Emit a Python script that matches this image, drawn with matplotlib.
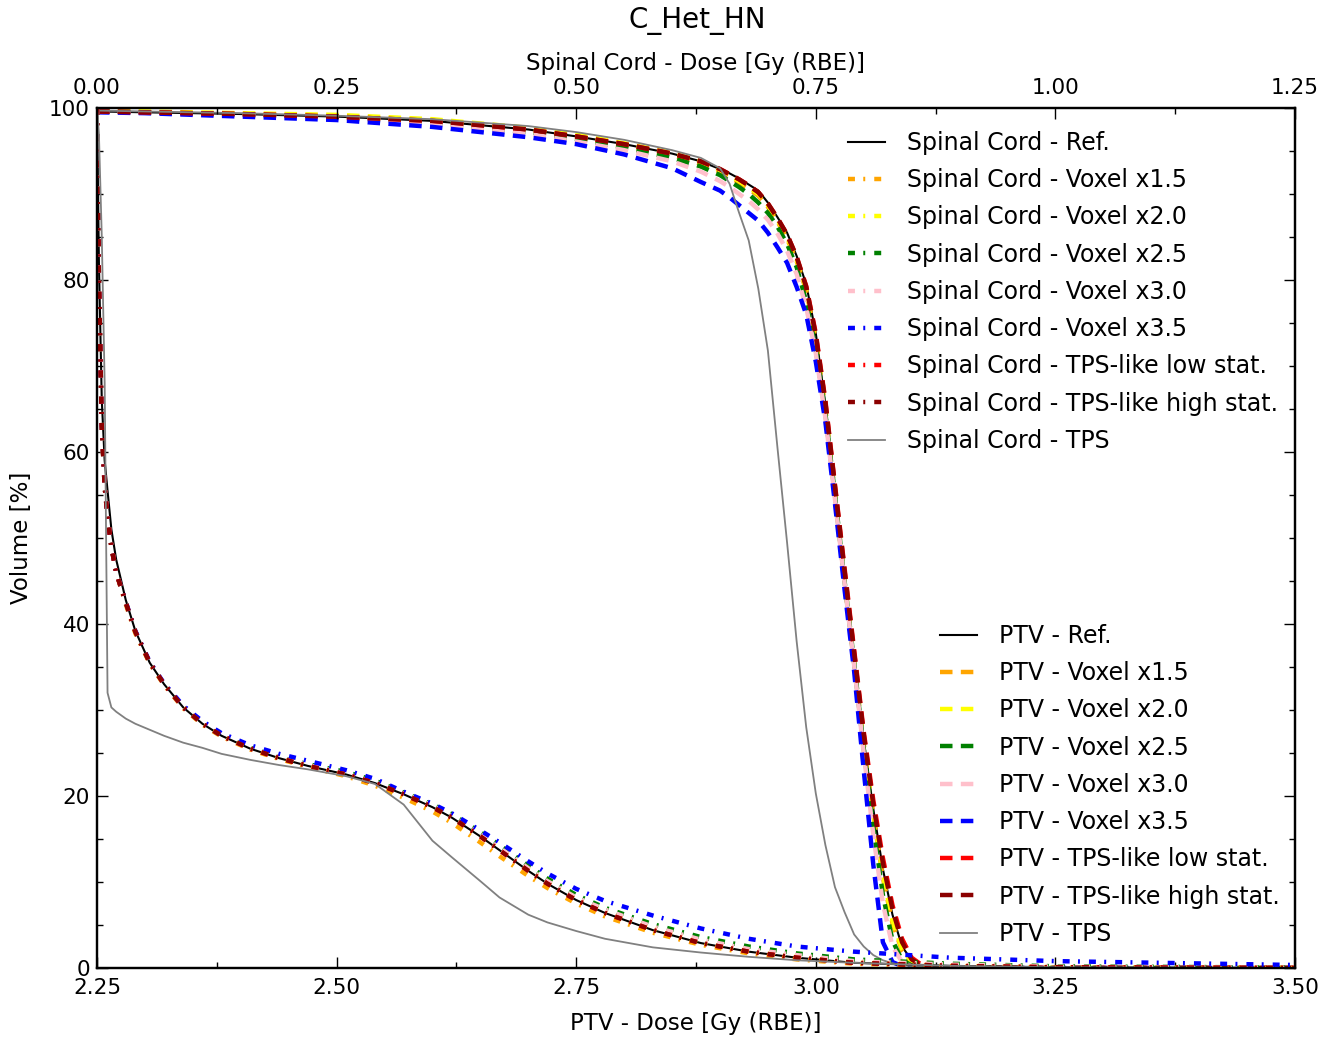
import matplotlib.pyplot as plt
from matplotlib.ticker import MultipleLocator

plt.rcParams['font.family'] = 'DejaVu Sans'
plt.rcParams['lines.scale_dashes'] = False
plt.rcParams['xtick.direction'] = 'in'
plt.rcParams['ytick.direction'] = 'in'
plt.rcParams['ytick.right'] = True

# run labels / colours (same order for both structures)
runs = ['Ref.', 'Voxel x1.5', 'Voxel x2.0', 'Voxel x2.5', 'Voxel x3.0',
        'Voxel x3.5', 'TPS-like low stat.', 'TPS-like high stat.', 'TPS']
colors = ['black', 'orange', 'yellow', 'green', 'pink', 'blue', 'red', 'darkred', 'grey']

# PTV DVH (bottom axis)
ptv_dose = [2.25, 2.30, 2.40, 2.50, 2.60, 2.70, 2.75, 2.80, 2.85, 2.88, 2.90, 2.91,
            2.92, 2.93, 2.94, 2.95, 2.96, 2.97, 2.98, 2.99, 3.00, 3.01, 3.02, 3.03,
            3.04, 3.05, 3.06, 3.07, 3.08, 3.09, 3.10, 3.11, 3.12, 3.15, 3.25, 3.50]
ptv_ref = [99.6, 99.5, 99.3, 99.0, 98.5, 97.5, 96.7, 95.8, 94.7, 93.8, 92.9, 92.4,
           91.8, 91.1, 90.4, 89.0, 87.3, 85.5, 82.8, 79.5, 73.8, 65.5, 55.5, 45.5,
           36.0, 26.5, 18.5, 11.5, 6.2, 2.5, 0.9, 0.3, 0.1, 0.02, 0, 0]
ptv_x15 = [99.6, 99.5, 99.3, 99.0, 98.5, 97.4, 96.6, 95.6, 94.5, 93.5, 92.6, 92.0,
           91.3, 90.6, 89.8, 88.5, 86.8, 84.8, 82.2, 78.8, 73.0, 65.0, 55.0, 45.0,
           35.5, 26.0, 17.8, 10.5, 5.2, 2.0, 0.6, 0.2, 0.05, 0, 0, 0]
ptv_x20 = [99.7, 99.6, 99.4, 99.2, 98.7, 97.7, 96.9, 95.9, 94.8, 93.8, 92.8, 92.2,
           91.5, 90.8, 90.0, 88.7, 87.0, 85.0, 82.4, 79.0, 73.3, 65.3, 55.3, 45.3,
           35.8, 26.3, 18.0, 10.8, 5.5, 2.2, 0.7, 0.2, 0.05, 0, 0, 0]
ptv_x25 = [99.6, 99.5, 99.2, 98.9, 98.3, 97.2, 96.4, 95.4, 94.2, 93.2, 92.2, 91.5,
           90.8, 90.0, 89.0, 87.8, 86.2, 84.2, 81.5, 77.5, 72.0, 64.5, 55.0, 45.0,
           35.5, 25.5, 16.5, 8.5, 3.2, 0.9, 0.3, 0.1, 0.03, 0, 0, 0]
ptv_x30 = [99.6, 99.5, 99.2, 98.8, 98.2, 97.0, 96.1, 95.1, 93.8, 92.6, 91.5, 90.8,
           90.0, 89.2, 88.2, 87.0, 85.4, 83.4, 80.7, 76.8, 71.5, 64.0, 54.5, 44.8,
           35.2, 25.0, 15.5, 7.5, 2.5, 0.7, 0.2, 0.05, 0, 0, 0, 0]
ptv_x35 = [99.5, 99.4, 99.0, 98.6, 97.8, 96.6, 95.8, 94.6, 93.0, 91.4, 90.4, 89.6,
           88.7, 87.8, 86.9, 85.5, 83.8, 82.0, 79.2, 76.0, 70.5, 63.5, 54.0, 44.0,
           34.5, 23.0, 12.0, 3.0, 0.7, 0.2, 0.05, 0, 0, 0, 0, 0]
ptv_low = [99.6, 99.5, 99.3, 99.0, 98.5, 97.5, 96.7, 95.8, 94.7, 93.8, 92.9, 92.3,
           91.7, 91.0, 90.2, 88.9, 87.2, 85.3, 82.7, 79.3, 73.8, 66.0, 56.2, 46.5,
           37.0, 27.5, 19.5, 12.8, 7.3, 3.4, 1.2, 0.4, 0.1, 0.02, 0, 0]
ptv_high = [99.6, 99.5, 99.3, 99.0, 98.5, 97.5, 96.7, 95.8, 94.7, 93.8, 92.9, 92.3,
            91.7, 91.0, 90.2, 88.9, 87.2, 85.3, 82.7, 79.2, 73.6, 65.8, 56.0, 46.2,
            36.7, 27.2, 19.0, 12.2, 6.8, 3.0, 1.0, 0.3, 0.1, 0.02, 0, 0]
ptv_tps = [99.7, 99.6, 99.4, 99.1, 98.7, 97.9, 97.2, 96.3, 95.1, 94.2, 93.0, 91.2,
           87.8, 84.6, 79.0, 71.8, 60.5, 49.5, 38.0, 28.0, 20.3, 14.3, 9.4, 6.5,
           3.9, 2.5, 1.5, 0.9, 0.55, 0.35, 0.2, 0.12, 0.08, 0.02, 0, 0]

# Spinal cord DVH (top axis)
sc_dose = [0, 0.002, 0.005, 0.008, 0.011, 0.015, 0.02, 0.03, 0.04, 0.055, 0.07, 0.09,
           0.11, 0.13, 0.16, 0.19, 0.22, 0.26, 0.29, 0.32, 0.35, 0.37, 0.40, 0.42,
           0.45, 0.47, 0.50, 0.53, 0.58, 0.63, 0.68, 0.73, 0.79, 0.89, 1.0, 1.25]
sc_ref = [100, 82, 66, 59, 55.5, 51, 47.5, 42.8, 39.2, 35.5, 33.0, 30.3,
          28.4, 27.0, 25.5, 24.4, 23.5, 22.5, 21.5, 20.2, 18.7, 17.5, 15.3, 13.7,
          11.3, 9.8, 7.9, 6.4, 4.4, 2.9, 1.9, 1.2, 0.6, 0.25, 0.08, 0.0]
sc_x15 = [100, 80, 63, 56, 52.5, 49.0, 46.0, 42.3, 38.9, 35.4, 32.9, 30.2,
          28.3, 26.9, 25.4, 24.3, 23.4, 22.3, 21.2, 19.8, 18.2, 16.9, 14.6, 13.0,
          10.7, 9.3, 7.5, 6.0, 4.1, 2.7, 1.7, 1.0, 0.5, 0.2, 0.06, 0.0]
sc_x20 = [100, 80, 63, 56, 52.5, 49.0, 46.0, 42.5, 39.1, 35.5, 33.0, 30.3,
          28.4, 27.0, 25.5, 24.4, 23.5, 22.5, 21.5, 20.2, 18.8, 17.6, 15.5, 13.9,
          11.5, 10.0, 8.1, 6.6, 4.6, 3.0, 2.0, 1.3, 0.7, 0.3, 0.1, 0.0]
sc_x25 = [100, 80, 63, 56, 52.5, 49.0, 46.0, 42.5, 39.1, 35.5, 33.0, 30.3,
          28.4, 27.0, 25.6, 24.5, 23.7, 22.8, 21.8, 20.4, 19.0, 17.9, 15.8, 14.3,
          11.9, 10.4, 8.5, 7.0, 5.1, 3.6, 2.5, 1.7, 1.0, 0.5, 0.2, 0.05]
sc_x30 = [100, 80, 63, 56, 52.5, 49.0, 46.0, 42.5, 39.1, 35.5, 33.0, 30.3,
          28.4, 27.0, 25.5, 24.5, 23.6, 22.6, 21.6, 20.3, 18.9, 17.7, 15.6, 14.0,
          11.6, 10.1, 8.2, 6.8, 4.8, 3.3, 2.2, 1.5, 0.8, 0.4, 0.15, 0.03]
sc_x35 = [100, 80, 63, 56, 52.5, 49.0, 46.0, 42.6, 39.2, 35.6, 33.1, 30.5,
          28.7, 27.3, 25.9, 24.9, 24.1, 23.0, 22.0, 20.5, 19.1, 18.0, 16.0, 14.6,
          12.4, 11.0, 9.2, 7.8, 6.1, 4.6, 3.4, 2.5, 1.9, 1.2, 0.8, 0.35]
sc_low = [100, 80, 63, 56, 52.5, 49.0, 46.0, 42.5, 39.1, 35.5, 33.0, 30.3,
          28.4, 27.0, 25.5, 24.4, 23.5, 22.5, 21.5, 20.2, 18.7, 17.5, 15.3, 13.7,
          11.3, 9.8, 7.9, 6.4, 4.4, 2.9, 1.9, 1.2, 0.6, 0.25, 0.08, 0.0]
sc_high = [100, 80, 63, 56, 52.5, 49.0, 46.0, 42.5, 39.1, 35.5, 33.0, 30.3,
           28.4, 27.0, 25.5, 24.4, 23.5, 22.5, 21.5, 20.2, 18.7, 17.5, 15.3, 13.7,
           11.3, 9.8, 7.9, 6.4, 4.4, 2.9, 1.9, 1.2, 0.6, 0.25, 0.08, 0.0]
sc_tps = [100, 97, 85, 68, 32, 30.3, 29.8, 29.0, 28.4, 27.7, 27.0, 26.2,
          25.6, 24.9, 24.2, 23.6, 23.1, 22.3, 21.4, 19.0, 14.8, 12.9, 10.1, 8.2,
          6.2, 5.3, 4.3, 3.4, 2.4, 1.8, 1.3, 0.9, 0.6, 0.25, 0.08, 0.0]

ptv_vols = [ptv_ref, ptv_x15, ptv_x20, ptv_x25, ptv_x30, ptv_x35, ptv_low, ptv_high, ptv_tps]
sc_vols = [sc_ref, sc_x15, sc_x20, sc_x25, sc_x30, sc_x35, sc_low, sc_high, sc_tps]

fig = plt.figure(figsize=(13.25, 10.4), dpi=100)
ax = fig.add_axes([97/1325, 72/1040, 1198/1325, 860/1040])
ax2 = ax.twiny()

dashed = (0, (9, 6))
dashdot = (0, (5, 6, 1.4, 6.5))

ptv_lines = []
sc_lines = []
for run, c, v_ptv, v_sc in zip(runs, colors, ptv_vols, sc_vols):
    if run == 'Ref.':
        kw_p = dict(color=c, lw=1.5, ls='-')
        kw_s = dict(color=c, lw=1.5, ls='-')
    elif run == 'TPS':
        kw_p = dict(color=c, lw=1.3, ls='-')
        kw_s = dict(color=c, lw=1.3, ls='-')
    else:
        kw_p = dict(color=c, lw=3.2, ls=dashed)
        kw_s = dict(color=c, lw=3.2, ls=dashdot)
    l1, = ax.plot(ptv_dose, v_ptv, label='PTV - ' + run, **kw_p)
    l2, = ax2.plot(sc_dose, v_sc, label='Spinal Cord - ' + run, **kw_s)
    ptv_lines.append(l1)
    sc_lines.append(l2)

ax.set_xlim(2.25, 3.5)
ax.set_ylim(0, 100)
ax2.set_xlim(0, 1.25)

ax.xaxis.set_major_locator(MultipleLocator(0.25))
ax.xaxis.set_minor_locator(MultipleLocator(0.125))
ax2.xaxis.set_major_locator(MultipleLocator(0.25))
ax2.xaxis.set_minor_locator(MultipleLocator(0.125))
ax.yaxis.set_major_locator(MultipleLocator(20))
ax.yaxis.set_minor_locator(MultipleLocator(5))

for a in (ax, ax2):
    a.tick_params(which='major', length=8, width=1, labelsize=15.5, pad=7)
    a.tick_params(which='minor', length=4, width=1)
    for s in a.spines.values():
        s.set_linewidth(1.6)
ax.tick_params(axis='y', pad=5)

ax.set_xlabel('PTV - Dose [Gy (RBE)]', fontsize=16.5, labelpad=10)
ax2.set_xlabel('Spinal Cord - Dose [Gy (RBE)]', fontsize=16.5, labelpad=6)
ax.set_ylabel('Volume [%]', fontsize=16.5, labelpad=12)
fig.text(697/1325, 1 - 21/1040, 'C_Het_HN', ha='center', va='center', fontsize=20)

leg_kw = dict(loc='upper left', bbox_transform=fig.transFigure, frameon=False,
              borderpad=0, borderaxespad=0, handlelength=1.55, handletextpad=0.95,
              labelspacing=0.56, fontsize=17)
leg2 = ax2.legend(handles=sc_lines, bbox_to_anchor=(848/1325, 1 - 131/1040), **leg_kw)
ax2.add_artist(leg2)
ax2.legend(handles=ptv_lines, bbox_to_anchor=(940/1325, 1 - 624/1040), **leg_kw)

fig.savefig('out.png', dpi=100)
